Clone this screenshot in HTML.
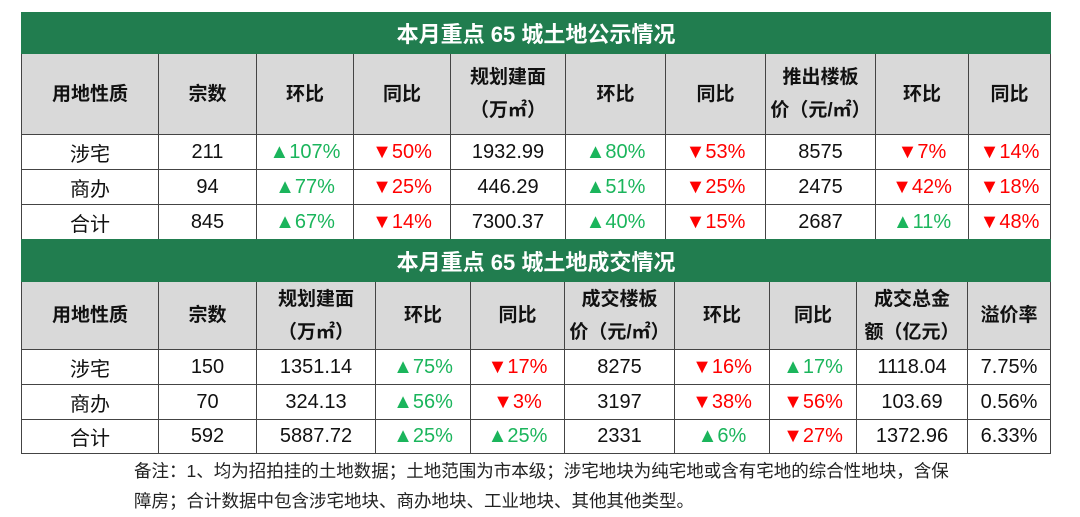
<!DOCTYPE html>
<html><head><meta charset="utf-8"><style>
body{margin:0;width:1080px;height:517px;background:#fff;position:relative;overflow:hidden;font-family:"Liberation Sans","Noto Sans CJK SC",sans-serif;}
table{position:absolute;left:21px;border-collapse:collapse;table-layout:fixed;width:1029px;}
td{border:1px solid #444;text-align:center;padding:0;font-size:20px;color:#111;white-space:nowrap;}
.t td.title{background:#217d4f;color:#fff;font-weight:bold;font-size:22px;border-color:#217d4f;}
.h td{background:#d9d9d9;font-weight:bold;font-size:19px;line-height:33px;}
.up{color:#1bb55c}.dn{color:#f00}
.note{position:absolute;left:134px;top:456px;font-size:17.5px;line-height:30px;color:#222;}
</style></head><body>
<table class="t" style="top:12px">
<colgroup><col style="width:137px"><col style="width:98px"><col style="width:97px"><col style="width:97px"><col style="width:115px"><col style="width:100px"><col style="width:100px"><col style="width:110px"><col style="width:93px"><col style="width:82px"></colgroup>
<tr style="height:41px"><td colspan="10" class="title">本月重点 65 城土地公示情况</td></tr>
<tr class="h" style="height:81px"><td>用地性质</td><td>宗数</td><td>环比</td><td>同比</td><td>规划建面<br>（万㎡）</td><td>环比</td><td>同比</td><td>推出楼板<br>价（元/㎡）</td><td>环比</td><td>同比</td></tr>
<tr style="height:35px"><td>涉宅</td><td>211</td><td class="up">▲107%</td><td class="dn">▼50%</td><td>1932.99</td><td class="up">▲80%</td><td class="dn">▼53%</td><td>8575</td><td class="dn">▼7%</td><td class="dn">▼14%</td></tr>
<tr style="height:35px"><td>商办</td><td>94</td><td class="up">▲77%</td><td class="dn">▼25%</td><td>446.29</td><td class="up">▲51%</td><td class="dn">▼25%</td><td>2475</td><td class="dn">▼42%</td><td class="dn">▼18%</td></tr>
<tr style="height:35px"><td>合计</td><td>845</td><td class="up">▲67%</td><td class="dn">▼14%</td><td>7300.37</td><td class="up">▲40%</td><td class="dn">▼15%</td><td>2687</td><td class="up">▲11%</td><td class="dn">▼48%</td></tr>
</table>
<table class="t" style="top:239px">
<colgroup><col style="width:137px"><col style="width:98px"><col style="width:119px"><col style="width:95px"><col style="width:94px"><col style="width:110px"><col style="width:95px"><col style="width:87px"><col style="width:111px"><col style="width:83px"></colgroup>
<tr style="height:42px"><td colspan="10" class="title">本月重点 65 城土地成交情况</td></tr>
<tr class="h" style="height:68px"><td>用地性质</td><td>宗数</td><td>规划建面<br>（万㎡）</td><td>环比</td><td>同比</td><td>成交楼板<br>价（元/㎡）</td><td>环比</td><td>同比</td><td>成交总金<br>额（亿元）</td><td>溢价率</td></tr>
<tr style="height:35px"><td>涉宅</td><td>150</td><td>1351.14</td><td class="up">▲75%</td><td class="dn">▼17%</td><td>8275</td><td class="dn">▼16%</td><td class="up">▲17%</td><td>1118.04</td><td>7.75%</td></tr>
<tr style="height:35px"><td>商办</td><td>70</td><td>324.13</td><td class="up">▲56%</td><td class="dn">▼3%</td><td>3197</td><td class="dn">▼38%</td><td class="dn">▼56%</td><td>103.69</td><td>0.56%</td></tr>
<tr style="height:34px"><td>合计</td><td>592</td><td>5887.72</td><td class="up">▲25%</td><td class="up">▲25%</td><td>2331</td><td class="up">▲6%</td><td class="dn">▼27%</td><td>1372.96</td><td>6.33%</td></tr>
</table>
<div class="note">备注：1、均为招拍挂的土地数据；土地范围为市本级；涉宅地块为纯宅地或含有宅地的综合性地块，含保<br>障房；合计数据中包含涉宅地块、商办地块、工业地块、其他其他类型。</div>
</body></html>
